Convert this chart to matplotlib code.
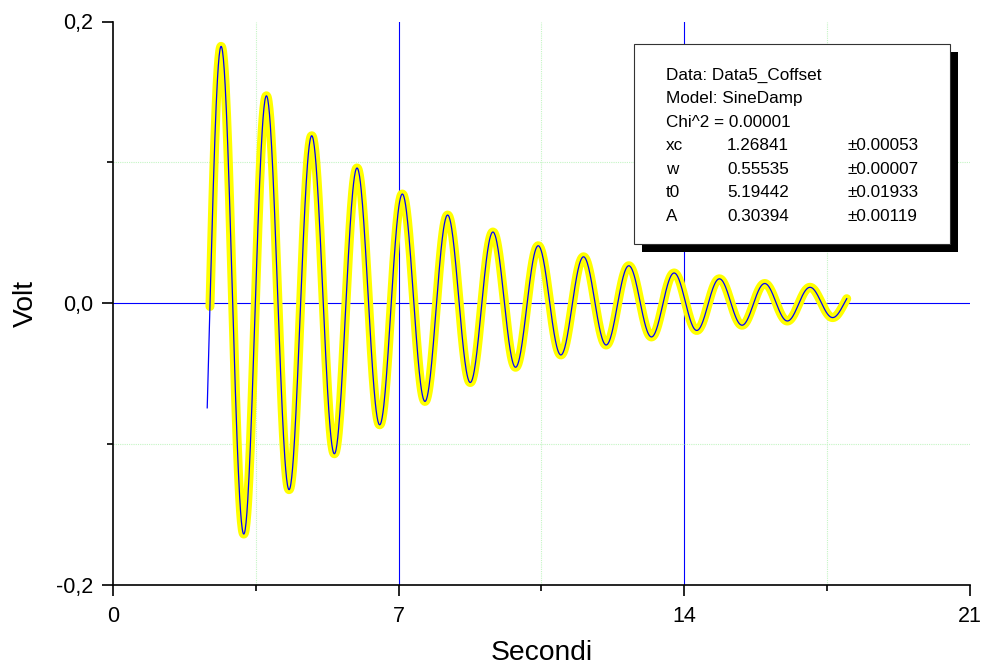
import numpy as np
import matplotlib
matplotlib.use('Agg')
import matplotlib.pyplot as plt
from matplotlib.patches import Rectangle

plt.rcParams['font.family'] = ['Liberation Sans', 'DejaVu Sans']

# results of the fit, as printed in the box
data_name = 'Data5_Coffset'
model_name = 'SineDamp'
chi2 = 0.00001
param_names = ['xc', 'w', 't0', 'A']
param_values = [1.26841, 0.55535, 5.19442, 0.30394]
param_errors = [0.00053, 0.00007, 0.01933, 0.00119]

data_range = [2.377, 17.99]
fit_range = [2.31, 17.99]

x_ticks = [0, 7, 14, 21]
x_labels = ['0', '7', '14', '21']
x_minor = [3.5, 10.5, 17.5]
y_ticks = [-0.2, 0.0, 0.2]
y_labels = ['-0,2', '0,0', '0,2']
y_minor = [-0.1, 0.1]


def sinedamp(x, xc, w, t0, A):
    # Origin SineDamp model
    return A * np.exp(-x / t0) * np.sin(np.pi * (x - xc) / w)


W, H = 982, 670
fig = plt.figure(figsize=(W / 100, H / 100), dpi=100)
ax = fig.add_axes([113 / W, 1 - 585 / H, 856.5 / W, 563.5 / H])

# grid lines (only inside the frame)
for xv in x_ticks[1:-1]:
    ax.axvline(xv, color='#0000ff', lw=0.8, zorder=1)
for yv in y_ticks[1:-1]:
    ax.axhline(yv, color='#0000ff', lw=0.8, zorder=1)
for xv in x_minor:
    ax.axvline(xv, color='#c4f5c4', lw=0.8, ls=(0, (1, 1)), zorder=1)
for yv in y_minor:
    ax.axhline(yv, color='#c4f5c4', lw=0.8, ls=(0, (1, 1)), zorder=1)

xd = np.linspace(data_range[0], data_range[1], 1500)
xf = np.linspace(fit_range[0], fit_range[1], 1500)
ax.plot(xd, sinedamp(xd, *param_values), color='#ffff00', lw=6.5,
        solid_capstyle='round', zorder=2)
ax.plot(xf, sinedamp(xf, *param_values), color='#0000ff', lw=0.9, zorder=3)

ax.set_xlim(x_ticks[0], x_ticks[-1])
ax.set_ylim(y_ticks[0], y_ticks[-1])
ax.set_xticks(x_ticks)
ax.set_xticklabels(x_labels)
ax.set_xticks(x_minor, minor=True)
ax.set_yticks(y_ticks)
ax.set_yticklabels(y_labels)
ax.set_yticks(y_minor, minor=True)
ax.tick_params(which='major', direction='out', length=8, width=1.2,
               labelsize=15.5)
ax.tick_params(axis='x', which='major', pad=7)
ax.tick_params(axis='y', which='major', pad=6)
ax.tick_params(which='minor', direction='out', length=4, width=1.2)
for side in ['top', 'right']:
    ax.spines[side].set_visible(False)
for side in ['left', 'bottom']:
    ax.spines[side].set_linewidth(1.2)

ax.set_xlabel('Secondi', fontsize=20.3, va='center')
ax.xaxis.set_label_coords(0.5, -(653 - 585) / 563.5)
ax.set_ylabel('Volt', fontsize=20.3, va='center')
ax.yaxis.set_label_coords(-(113 - 26) / 856.5, 0.5)

# results box with drop shadow
bx0, bx1, by0, by1 = 634, 950, 44, 244
fig.patches.append(Rectangle(((bx0 + 8) / W, 1 - (by1 + 8) / H), (bx1 - bx0) / W,
                             (by1 - by0) / H, transform=fig.transFigure,
                             facecolor='black', edgecolor='none', zorder=5))
fig.patches.append(Rectangle((bx0 / W, 1 - by1 / H), (bx1 - bx0) / W,
                             (by1 - by0) / H, transform=fig.transFigure,
                             facecolor='white', edgecolor='#333333', lw=0.8,
                             zorder=6))

lines = ['Data: ' + data_name, 'Model: ' + model_name,
         'Chi^2 = %.5f' % chi2]
y0, dy = 75, 23.6
for i, s in enumerate(lines):
    fig.text(666 / W, 1 - (y0 + i * dy) / H, s, fontsize=12.3,
             va='center', ha='left', zorder=7)
for j, (n, v, e) in enumerate(zip(param_names, param_values, param_errors)):
    yy = 1 - (y0 + (j + 3) * dy) / H
    fig.text(666 / W, yy, n, fontsize=12.3, va='center', zorder=7)
    fig.text(727 / W, yy, '%.5f' % v, fontsize=12.3, va='center', zorder=7)
    fig.text(848 / W, yy, '\u00b1%.5f' % e, fontsize=12.3, va='center', zorder=7)

fig.savefig('out.png', dpi=100)
